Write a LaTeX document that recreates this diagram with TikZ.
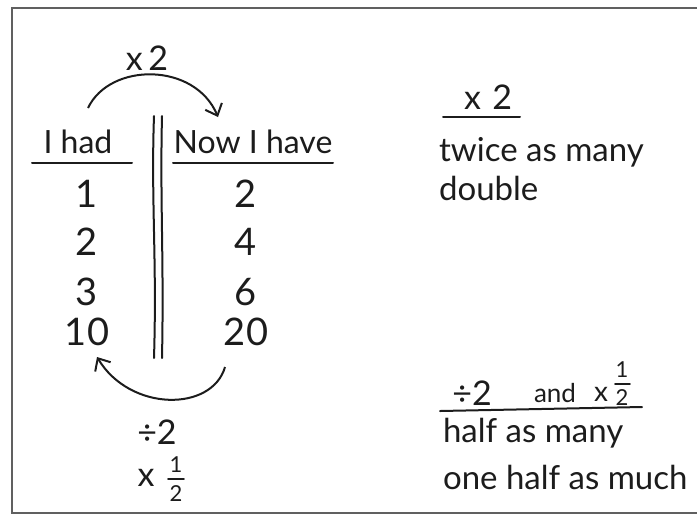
\documentclass[tikz,border=0pt]{standalone}
\usepackage{fontspec}
\setmainfont{Lato}
\usetikzlibrary{arrows.meta,positioning}
\definecolor{inkGray}{HTML}{1c1c1c}
\definecolor{frameGray}{HTML}{606060}

\begin{document}
\begin{tikzpicture}[x=0.5pt,y=-0.5pt,font=\fontsize{16}{19}\selectfont,color=inkGray,
  ink/.style={line width=1pt,line cap=round},
  hand/.style={-{Straight Barb[length=5pt,width=9pt]},line width=1pt},
  numtxt/.style={font=\fontsize{19}{22}\selectfont},
  optxt/.style={font=\fontsize{17}{20}\selectfont},
  notetxt/.style={anchor=west,font=\fontsize{16.5}{20}\selectfont},
  fractxt/.style={font=\fontsize{11}{13}\selectfont,inner sep=0pt}]
  \useasboundingbox (0,0) rectangle (697,516);
  % frame, open on the right
  \draw[frameGray,line width=0.8pt] (697,8) -- (12,8) -- (12,513) -- (697,513);

  % table heads
  \node (had) at (78,142) {I had};
  \node (now) at (253,142) {Now I have};
  \draw[ink] (32,163) -- (132,163);
  \draw[ink] (173,163) -- (333,163);
  % double divider
  \draw[ink] (154,116) .. controls (151,200) and (157,260) .. (154,358);
  \draw[ink] (162,116) .. controls (160,200) and (164,260) .. (162,358);

  % columns
  \foreach \y/\a/\b [count=\i] in {194/1/2,242/2/4,292/3/6,332/10/20}{
    \node[numtxt] (l\i) at (87,\y) {\a};
    \node[numtxt] (r\i) at (246,\y) {\b};
  }

  % times two, over the top
  \node[optxt] (times) at (147,58) {x\,2};
  \coordinate (arcA) at (88,108);
  \coordinate (arcB) at (218,117);
  \draw[hand] (arcA) .. controls (110,62) and (195,62) .. (arcB);

  % back again, underneath
  \coordinate (arcC) at (225,367);
  \coordinate (arcD) at (97,357);
  \draw[hand] (arcC) .. controls (212,412) and (130,412) .. (arcD);
  \node[optxt] (divide) at (157,432) {÷2};
  \node[optxt] (timesx) at (146,478) {x};
  \node[fractxt] (halfTop) at (176,465) {1};
  \node[fractxt] (halfBot) at (176,494) {2};
  \draw[ink,line width=0.8pt] (168,479) -- (184,479);

  % right notes
  \node[optxt] (rtimes) at (488,97) {x\,\,2};
  \draw[ink] (443,117) -- (520,117);
  \node[notetxt] (twice) at (432,152) {twice as many};
  \node[notetxt] (dbl) at (432,188) {double};

  \node[optxt] (rdiv) at (472,393) {÷2};
  \node[fractxt,font=\fontsize{13}{15}\selectfont] (rand) at (555,393) {and};
  \node[fractxt,font=\fontsize{14}{16}\selectfont] (rx) at (601,394) {x};
  \node[fractxt] (rTop) at (622,370) {1};
  \node[fractxt] (rBot) at (622,398) {2};
  \draw[ink,line width=0.8pt] (615,384) -- (630,384);
  \draw[ink] (440,411) -- (642,407);
  \node[notetxt] (halfmany) at (436,433) {half as many};
  \node[notetxt] (halfmuch) at (436,477) {one half as much};
\end{tikzpicture}
\end{document}
